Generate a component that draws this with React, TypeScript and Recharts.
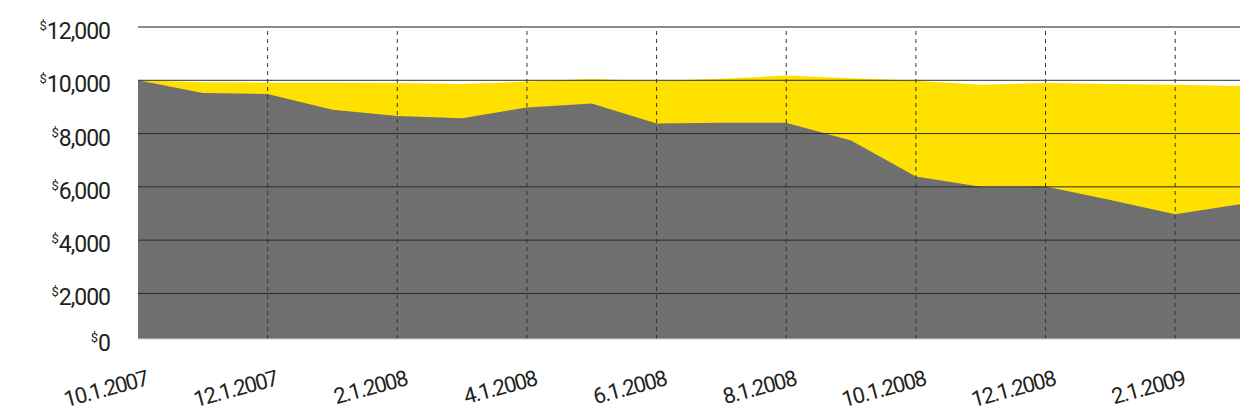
import React from 'react';
import { AreaChart, Area, XAxis, YAxis, ReferenceLine } from 'recharts';

const months = [
  '10.1.2007', '11.1.2007', '12.1.2007', '1.1.2008', '2.1.2008', '3.1.2008',
  '4.1.2008', '5.1.2008', '6.1.2008', '7.1.2008', '8.1.2008', '9.1.2008',
  '10.1.2008', '11.1.2008', '12.1.2008', '1.1.2009', '2.1.2009', '3.1.2009',
];

const benchmarkValues = [
  10000, 9925, 9910, 9905, 9900, 9862, 9950, 10050, 9962,
  10060, 10176, 10080, 9987, 9836, 9900, 9862, 9837, 9786,
];

const fundValues = [
  10000, 9520, 9485, 8893, 8660, 8577, 8981, 9132, 8377,
  8403, 8403, 7736, 6388, 6000, 6011, 5509, 4969, 5347,
];

// the axis floor sits a touch above zero, the "$0" label goes there
const AXIS_FLOOR = 290;
const yTicks = [AXIS_FLOOR, 2000, 4000, 6000, 8000, 10000, 12000];
const gridValues = [2000, 4000, 6000, 8000, 10000];

// dashed guides every other month, skipping the first one (that's the left edge)
const guideMonths = months.filter((_, i) => i > 0 && i % 2 === 0 && i < months.length - 1);

const data = months.map((m, i) => ({
  month: m,
  benchmark: benchmarkValues[i],
  fund: fundValues[i],
}));

const FONT = 'Roboto, sans-serif';

const YTick = ({ y, payload }: any) => {
  const v = payload.value <= AXIS_FLOOR ? 0 : payload.value;
  return (
    <text x={110} y={y + 12} textAnchor="end" fontFamily={FONT} fill="#231f20">
      <tspan fontSize={13} dy={-9}>$</tspan>
      <tspan fontSize={23} dy={9} letterSpacing={-1}>{v.toLocaleString('en-US')}</tspan>
    </text>
  );
};

const XTick = ({ x, y, payload }: any) => {
  const tx = x + 11;
  const ty = y + 46;
  return (
    <text
      x={tx}
      y={ty}
      textAnchor="end"
      fontFamily={FONT}
      fontSize={22}
      letterSpacing={-1.4}
      fill="#231f20"
      transform={`rotate(-15, ${tx}, ${ty})`}
    >
      {payload.value}
    </text>
  );
};

export default function App() {
  return (
    <div style={{ position: 'absolute', left: 0, top: 0, background: '#fff' }}>
      <AreaChart
        width={1247}
        height={417}
        data={data}
        margin={{ top: 27, right: 7, bottom: 18, left: 0 }}
      >
        <XAxis
          dataKey="month"
          interval={1}
          height={60}
          tickSize={0}
          tickMargin={0}
          tick={<XTick />}
          axisLine={{ stroke: '#d9d2b4', strokeWidth: 1 }}
        />
        <YAxis
          width={138}
          domain={[AXIS_FLOOR, 12000]}
          ticks={yTicks}
          allowDataOverflow
          tickLine={false}
          tick={<YTick />}
          axisLine={false}
        />
        <Area
          type="linear"
          dataKey="benchmark"
          stroke="none"
          fill="#ffe100"
          fillOpacity={1}
          isAnimationActive={false}
        />
        <Area
          type="linear"
          dataKey="fund"
          stroke="none"
          fill="#6f6f6f"
          fillOpacity={1}
          isAnimationActive={false}
        />
        <ReferenceLine y={12000} stroke="#8c8c8c" strokeWidth={2} />
        {gridValues.map(v => (
          <ReferenceLine key={v} y={v} stroke="#2b2b2b" strokeWidth={1} />
        ))}
        {guideMonths.map(m => (
          <ReferenceLine key={m} x={m} stroke="#333" strokeWidth={1} strokeDasharray="4 4" />
        ))}
      </AreaChart>
    </div>
  );
}
